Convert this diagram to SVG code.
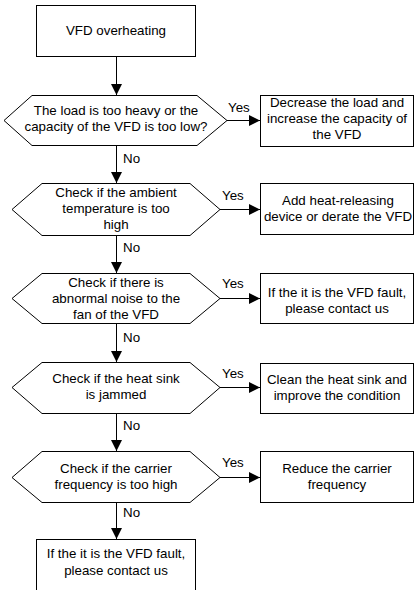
<svg xmlns="http://www.w3.org/2000/svg" width="414" height="590" viewBox="0 0 414 590">
<defs>
<marker id="ah" markerUnits="userSpaceOnUse" markerWidth="12" markerHeight="12" refX="11" refY="5.5" orient="auto">
<path d="M0,0 L11,5.5 L0,11 Z" fill="#000"/>
</marker>
<style>
.n{fill:#fff;stroke:#000;stroke-width:1}
.c{fill:none;stroke:#000;stroke-width:1;marker-end:url(#ah)}
text{font-family:"Liberation Sans",Arial,sans-serif;font-size:13.33px;fill:#000}
.m{text-anchor:middle}
</style>
</defs>
<rect width="414" height="590" fill="#fff"/>
<g id="connectors">
<line class="c" x1="116.5" y1="56" x2="116.5" y2="95"/>
<line class="c" x1="227" y1="120.5" x2="260" y2="120.5"/>
<line class="c" x1="116.5" y1="145" x2="116.5" y2="183"/>
<line class="c" x1="220" y1="209.5" x2="260" y2="209.5"/>
<line class="c" x1="116.5" y1="235" x2="116.5" y2="273"/>
<line class="c" x1="220" y1="298.5" x2="260" y2="298.5"/>
<line class="c" x1="116.5" y1="323" x2="116.5" y2="362"/>
<line class="c" x1="220" y1="387.5" x2="260" y2="387.5"/>
<line class="c" x1="116.5" y1="413" x2="116.5" y2="451"/>
<line class="c" x1="220" y1="477.5" x2="260" y2="477.5"/>
<line class="c" x1="116.5" y1="502" x2="116.5" y2="539"/>
<text x="228" y="112">Yes</text>
<text x="222" y="200">Yes</text>
<text x="222" y="288">Yes</text>
<text x="222" y="378">Yes</text>
<text x="222" y="467">Yes</text>
<text x="123" y="163">No</text>
<text x="123" y="252">No</text>
<text x="123" y="342">No</text>
<text x="123" y="430">No</text>
<text x="123" y="517">No</text>
</g>
<g id="start">
<rect class="n" x="36.5" y="5.5" width="159" height="51"/>
<text class="m" x="116" y="35">VFD overheating</text>
</g>
<g id="d1">
<polygon class="n" points="4,120.5 32,95.5 197,95.5 227,120.5 197,145.5 32,145.5"/>
<text class="m" x="116" y="115">The load is too heavy or the</text>
<text class="m" x="116" y="131">capacity of the VFD is too low?</text>
</g>
<g id="b1">
<rect class="n" x="260.5" y="95.5" width="153" height="51"/>
<text class="m" x="337" y="107">Decrease the load and</text>
<text class="m" x="337" y="123">increase the capacity of</text>
<text class="m" x="337" y="139">the VFD</text>
</g>
<g id="d2">
<polygon class="n" points="12,209.5 42,183.5 190,183.5 220,209.5 190,235.5 42,235.5"/>
<text class="m" x="116" y="197">Check if the ambient</text>
<text class="m" x="116" y="213">temperature is too</text>
<text class="m" x="116" y="229">high</text>
</g>
<g id="b2">
<rect class="n" x="260.5" y="183.5" width="153" height="51"/>
<text class="m" x="338" y="205">Add heat-releasing</text>
<text class="m" x="338" y="221">device or derate the VFD</text>
</g>
<g id="d3">
<polygon class="n" points="12,298.5 42,273.5 190,273.5 220,298.5 190,323.5 42,323.5"/>
<text class="m" x="116" y="287">Check if there is</text>
<text class="m" x="116" y="303">abnormal noise to the</text>
<text class="m" x="116" y="319">fan of the VFD</text>
</g>
<g id="b3">
<rect class="n" x="260.5" y="273.5" width="153" height="50"/>
<text class="m" x="337" y="296.5">If the it is the VFD fault,</text>
<text class="m" x="337" y="312.5">please contact us</text>
</g>
<g id="d4">
<polygon class="n" points="12,387.5 42,362.5 190,362.5 220,387.5 190,413.5 42,413.5"/>
<text class="m" x="116" y="383">Check if the heat sink</text>
<text class="m" x="116" y="399">is jammed</text>
</g>
<g id="b4">
<rect class="n" x="260.5" y="363.5" width="153" height="50"/>
<text class="m" x="337" y="384">Clean the heat sink and</text>
<text class="m" x="337" y="400">improve the condition</text>
</g>
<g id="d5">
<polygon class="n" points="12,477.5 42,451.5 190,451.5 220,477.5 190,502.5 42,502.5"/>
<text class="m" x="116" y="473">Check if the carrier</text>
<text class="m" x="116" y="489">frequency is too high</text>
</g>
<g id="b5">
<rect class="n" x="260.5" y="451.5" width="153" height="51"/>
<text class="m" x="337" y="473">Reduce the carrier</text>
<text class="m" x="337" y="489">frequency</text>
</g>
<g id="end">
<rect class="n" x="36.5" y="539.5" width="159" height="70"/>
<text class="m" x="116" y="558">If the it is the VFD fault,</text>
<text class="m" x="116" y="575">please contact us</text>
</g>
</svg>
